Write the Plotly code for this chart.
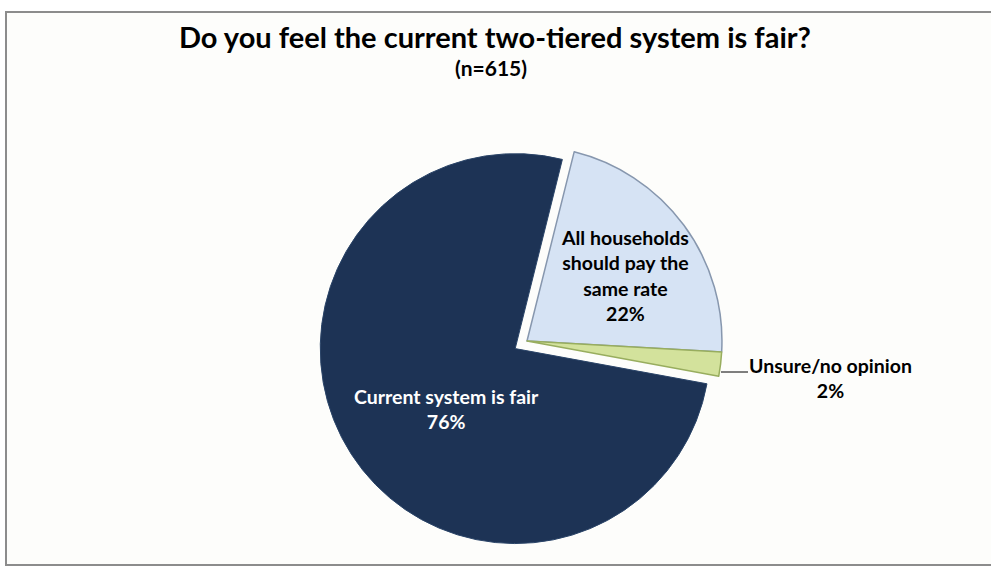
import plotly.graph_objects as go

labels = ["All households should pay the same rate", "Unsure/no opinion", "Current system is fair"]
label_lines = [["All households", "should pay the", "same rate"], ["Unsure/no opinion"], ["Current system is fair"]]
values = [22, 2, 76]
pulls = [0, 0, 0.072]
colors = ["#D6E3F4", "#D3E29C", "#1D3355"]
line_colors = ["#8797AE", "#98AD5E", "#2A4468"]

title_text = "Do you feel the current two-tiered system is fair?"
subtitle_text = "(n=615)"

W, H = 991, 568
FONT = "Lato"

fig = go.Figure()
fig.add_trace(go.Pie(
    labels=labels, values=values, sort=False, direction="clockwise", rotation=14,
    pull=pulls, textinfo="none", hoverinfo="label+percent",
    marker=dict(colors=colors, line=dict(color=line_colors, width=[1.5, 1.5, 1])),
    domain=dict(x=[(527 - 209) / W, (527 + 209) / W], y=[1 - (341 + 209) / H, 1 - (341 - 209) / H]),
    showlegend=False,
))

def lbl(i):
    return "<br>".join(label_lines[i] + [f"{values[i]}%"])

# label anchor positions in pixels (centre of each text block)
label_pos = [(625, 275, "#000000"), (830, 378, "#000000"), (446, 409, "#FFFFFF")]
for i, (px, py, col) in enumerate(label_pos):
    fig.add_annotation(xref="paper", yref="paper", showarrow=False, align="center",
                       xanchor="center", yanchor="middle",
                       x=px / W, y=1 - py / H, text=f"<b>{lbl(i)}</b>",
                       font=dict(family=FONT, size=19.5, color=col))

# title and subtitle
fig.add_annotation(xref="paper", yref="paper", x=495 / W, y=1 - 37 / H, showarrow=False,
                   xanchor="center", yanchor="middle",
                   text=f"<b>{title_text}</b>",
                   font=dict(family=FONT, size=29, color="#000000"))
fig.add_annotation(xref="paper", yref="paper", x=491 / W, y=1 - 67 / H, showarrow=False,
                   xanchor="center", yanchor="middle",
                   text=f"<b>{subtitle_text}</b>", font=dict(family=FONT, size=21, color="#000000"))

# frame
fig.add_shape(type="rect", xref="paper", yref="paper", x0=6 / W, x1=1.02, y0=1 - 565 / H, y1=1 - 12 / H,
              line=dict(color="#8C8C8C", width=2), fillcolor="#FDFDFB", layer="below")
# leader line for the small slice
fig.add_shape(type="line", xref="paper", yref="paper", x0=721 / W, x1=748 / W, y0=1 - 372 / H, y1=1 - 372 / H,
              line=dict(color="#000000", width=1))

fig.update_layout(width=W, height=H, margin=dict(l=0, r=0, t=0, b=0),
                  paper_bgcolor="#FFFFFF", plot_bgcolor="#FFFFFF")
fig.write_html("out.html", config={"displayModeBar": False},
               post_script="document.body.style.margin='0px';document.body.style.overflow='hidden';")
